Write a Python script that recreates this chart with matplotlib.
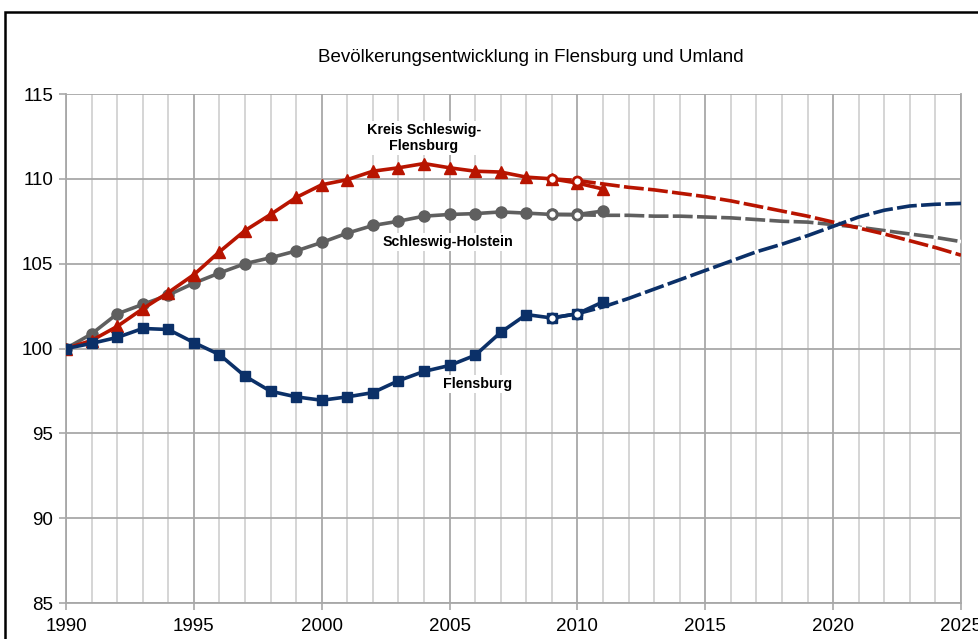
import numpy as np
import matplotlib
matplotlib.use("Agg")
import matplotlib.pyplot as plt
from matplotlib.patches import Rectangle

plt.rcParams['font.family'] = ['Liberation Sans', 'DejaVu Sans']

# observed index values (1990 = 100)
years = list(range(1990, 2012))
flensburg = [100.0, 100.3, 100.65, 101.18, 101.12, 100.35, 99.64, 98.37, 97.48, 97.15,
             96.95, 97.15, 97.4, 98.1, 98.65, 99.0, 99.6, 100.95, 102.0, 101.8, 102.05, 102.75]
kreis_sl_fl = [100.0, 100.47, 101.3, 102.34, 103.3, 104.35, 105.7, 106.95, 107.9, 108.9,
               109.65, 109.95, 110.45, 110.65, 110.9, 110.65, 110.45, 110.4, 110.1, 110.0, 109.75, 109.4]
schleswig_holstein = [100.0, 100.86, 102.04, 102.6, 103.15, 103.85, 104.45, 105.0, 105.35, 105.75,
                      106.25, 106.8, 107.25, 107.5, 107.8, 107.9, 107.95, 108.05, 107.98, 107.9, 107.9, 108.1]

# projections
proj_years = list(range(2009, 2026))
proj_flensburg = [101.8, 102.05, 102.45, 102.95, 103.5, 104.05, 104.6, 105.15, 105.7,
                  106.15, 106.65, 107.2, 107.75, 108.15, 108.4, 108.5, 108.55]
proj_kreis = [110.0, 109.9, 109.7, 109.5, 109.35, 109.15, 108.95, 108.7, 108.4,
              108.1, 107.8, 107.45, 107.1, 106.75, 106.35, 105.95, 105.5]
proj_sh = [107.9, 107.88, 107.85, 107.85, 107.8, 107.8, 107.75, 107.7, 107.6,
           107.5, 107.45, 107.3, 107.15, 106.95, 106.75, 106.55, 106.3]

c_fl = '#0b3068'
c_kr = '#b81400'
c_sh = '#5f5f5f'

fig = plt.figure(figsize=(9.79, 6.39), dpi=100)
ax = fig.add_axes([66 / 979, 36 / 639, 895 / 979, 509 / 639])

# frame around the chart area
fig.patches.append(Rectangle((5 / 979, -0.2), 1.2, 1.2 - 12 / 639 + 0.0,
                             transform=fig.transFigure, fill=False,
                             edgecolor='black', linewidth=1.8, zorder=10))

ax.set_xlim(1990, 2025)
ax.set_ylim(85, 115)
ax.set_xticks(range(1990, 2026, 5))
ax.set_xticks(range(1990, 2026), minor=True)
ax.set_yticks(range(85, 116, 5))
ax.grid(which='minor', axis='x', color='#d2d2d2', linewidth=1.3)
ax.grid(which='major', axis='x', color='#a8a8a8', linewidth=1.3)
ax.grid(which='major', axis='y', color='#a8a8a8', linewidth=1.3)
ax.set_axisbelow(True)
for s in ax.spines.values():
    s.set_color('#a8a8a8')
    s.set_linewidth(1.3)
ax.spines['top'].set_visible(False)
ax.tick_params(which='major', length=5, width=1.2, color='#a8a8a8',
               labelsize=13.5, pad=4)
ax.tick_params(which='minor', length=0)
ax.tick_params(axis='x', pad=6)

lw = 2.6
dash = (0, (5.5, 1.2))
for py, col in [(proj_sh, c_sh), (proj_kreis, c_kr), (proj_flensburg, c_fl)]:
    ax.plot(proj_years, py, color=col, lw=lw, ls=dash, gapcolor='white', zorder=3)

ax.plot(years, schleswig_holstein, color=c_sh, lw=lw, marker='o', ms=8, zorder=4)
ax.plot(years, kreis_sl_fl, color=c_kr, lw=lw, marker='^', ms=8, zorder=4)
ax.plot(years, flensburg, color=c_fl, lw=lw, marker='s', ms=7.5, zorder=4)

# projection markers for 2009 and 2010
for py, col in [(proj_sh, c_sh), (proj_kreis, c_kr), (proj_flensburg, c_fl)]:
    ax.plot(proj_years[:2], py[:2], ls='none', marker='o', ms=6.5,
            mfc='white', mec=col, mew=2, zorder=5)

box = dict(facecolor='white', edgecolor='none', pad=1.5)
ax.text(2004.0, 112.4, 'Kreis Schleswig-\nFlensburg', ha='center', va='center',
        fontsize=10.3, fontweight='bold', linespacing=1.2, bbox=box, zorder=6)
ax.text(2004.95, 106.28, 'Schleswig-Holstein', ha='center', va='center',
        fontsize=10.3, fontweight='bold', bbox=box, zorder=6)
ax.text(2006.1, 97.9, 'Flensburg', ha='center', va='center',
        fontsize=10.3, fontweight='bold', bbox=box, zorder=6)

fig.text(531 / 979, 1 - 57 / 639, 'Bevölkerungsentwicklung in Flensburg und Umland',
         ha='center', va='center', fontsize=13.5)

fig.savefig('out.png', dpi=100)
